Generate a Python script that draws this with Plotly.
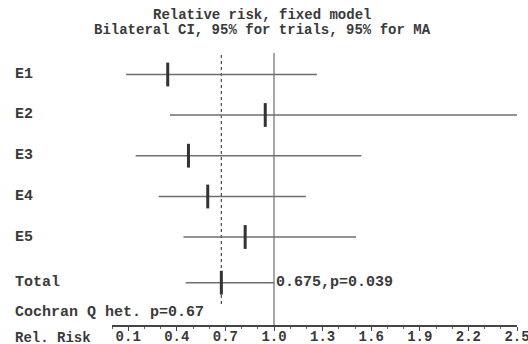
import plotly.graph_objects as go

# ---- data ----
studies = ["E1", "E2", "E3", "E4", "E5", "Total"]
rr_est = [0.344, 0.946, 0.472, 0.591, 0.822, 0.675]
rr_low = [0.087, 0.358, 0.146, 0.288, 0.441, 0.455]
rr_high = [1.265, 2.5, 1.539, 1.197, 1.506, 1.0]
pooled_rr = 0.675
pooled_p = 0.039
cochran_p = 0.67
null_value = 1.0
axis_min, axis_max = 0.0, 2.5
tick_values = [0.1, 0.4, 0.7, 1.0, 1.3, 1.6, 1.9, 2.2, 2.5]
tick_labels = ["0.1", "0.4", "0.7", "1.0", "1.3", "1.6", "1.9", "2.2", "2.5"]
title_lines = ["Relative risk, fixed model",
               "Bilateral CI, 95% for trials, 95% for MA"]

# ---- layout helpers (pixel rows) ----
W, H = 528, 344
AXIS_Y = 326
row_y = [74.5, 115, 155.7, 196.5, 237, 282.7]
cochran_y = 312.7
ticklabel_y = 337.5
title_y = [15, 30]
FONT = "Liberation Mono"
TXT = "#3a3a3a"


def py(pix):
    return 1 - pix / H


fig = go.Figure()

# reference lines (no-effect line and pooled estimate)
fig.add_trace(go.Scatter(x=[null_value, null_value], y=[53, AXIS_Y], mode="lines",
                         line=dict(color="#8a8a8a", width=1.5), showlegend=False, hoverinfo="skip"))
fig.add_trace(go.Scatter(x=[pooled_rr, pooled_rr], y=[55, 305], mode="lines",
                         line=dict(color="#555555", width=1.3, dash="dot"), showlegend=False, hoverinfo="skip"))
# axis baseline
fig.add_trace(go.Scatter(x=[axis_min, axis_max], y=[AXIS_Y - 0.5, AXIS_Y - 0.5], mode="lines",
                         line=dict(color="#444444", width=1), showlegend=False, hoverinfo="skip"))

# CIs as error bars, estimates as vertical ticks
fig.add_trace(go.Scatter(
    x=rr_est, y=row_y, mode="markers",
    marker=dict(symbol="line-ns", size=17, line=dict(width=3, color="#333333"), color="#333333"),
    error_x=dict(type="data", symmetric=False,
                 array=[h - e for h, e in zip(rr_high, rr_est)],
                 arrayminus=[e - l for e, l in zip(rr_est, rr_low)],
                 width=0, thickness=1.4, color="#6e6e6e"),
    showlegend=False, hoverinfo="skip"))


def txt(x, xref, ypix, text, size=15, anchor="left"):
    return dict(x=x, xref=xref, y=py(ypix), yref="paper", text=text, showarrow=False,
                xanchor=anchor, yanchor="middle",
                font=dict(family=FONT, size=size, color=TXT, weight="bold"))


ann = []
for name, y in zip(studies, row_y):
    ann.append(txt(13 / W, "paper", y, name))
ann.append(txt(13 / W, "paper", cochran_y, f"Cochran Q het. p={cochran_p}"))
ann.append(txt(13 / W, "paper", ticklabel_y, "Rel. Risk", size=14))
ann.append(txt(null_value, "x", row_y[-1], f"{pooled_rr},p={pooled_p}"))
for line, y in zip(title_lines, title_y):
    ann.append(txt(262 / W, "paper", y, line, size=14, anchor="center"))

fig.update_layout(
    width=W, height=H, margin=dict(l=0, r=0, t=0, b=0, autoexpand=False),
    paper_bgcolor="white", plot_bgcolor="rgba(0,0,0,0)",
    annotations=ann,
    xaxis=dict(domain=[112 / W, 517 / W], range=[axis_min, axis_max], showgrid=False, zeroline=False,
               automargin=False, ticklabeloverflow="allow", ticklabelstandoff=-7,
               showline=True, linecolor="#444444", linewidth=1,
               tickmode="array", tickvals=tick_values, ticktext=tick_labels,
               ticks="outside", ticklen=4, tickwidth=1, tickcolor="#444444",
               minor=dict(tickmode="linear", dtick=0.1, tick0=0, ticks="outside", ticklen=2,
                          tickwidth=1, tickcolor="#666666"),
               tickfont=dict(family=FONT, size=14, color=TXT, weight="bold")),
    yaxis=dict(domain=[(H - AXIS_Y) / H, 1], range=[AXIS_Y, 0], showticklabels=False, ticks="",
               showline=False, showgrid=False, zeroline=False),
)

fig.write_html("out.html")
